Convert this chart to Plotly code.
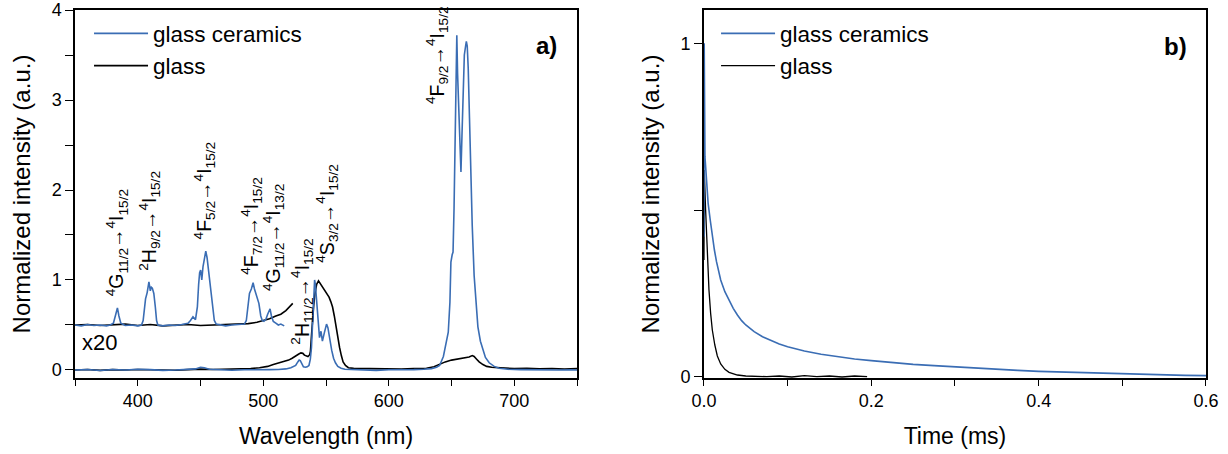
import plotly.graph_objects as go

BLUE = "#3a6db4"
BLACK = "#000000"
FONT = "Liberation Sans, Arial, sans-serif"

# ---------------- panel a) emission spectra ----------------
gc_wl = [350, 360, 370, 380, 390, 400, 410, 420, 430, 440, 446, 450, 453, 457, 465, 475, 485, 495,
         505, 512, 518, 522, 525.8, 527.5, 528.6, 529.5, 530.9, 532, 533.7, 535, 536.4, 537.5, 538.4,
         539.2, 539.8, 540.9, 541.5, 542, 543.2, 544.8, 546, 547.1, 548.7, 549.5, 550.4, 551.5, 553.2,
         554.5, 556, 557.5, 559.4, 562, 565, 570, 580, 590, 600, 610, 620, 628, 634, 638, 640.5, 643.5,
         645.5, 647.4, 648.7, 649.5, 650.5, 651.2, 652, 652.8, 653.5, 654.2, 654.8, 655.5, 656.3, 657,
         657.5, 658.3, 659.2, 660.2, 661.2, 661.8, 662.5, 663.3, 664.3, 665.3, 666.5, 668, 669.5, 671,
         673, 675, 677, 680, 684, 688, 695, 705, 715, 725, 735, 745, 750]
gc_int = [0.0, 0.005, -0.005, 0.005, 0.0, 0.008, 0.004, -0.004, 0.0, 0.006, 0.012, 0.03, 0.025, 0.008,
          0.0, -0.003, 0.002, 0.0, 0.004, 0.006, 0.012, 0.025, 0.05, 0.09, 0.11, 0.105, 0.06, 0.035, 0.03,
          0.035, 0.05, 0.12, 0.25, 0.5, 0.77, 1.0, 0.95, 0.85, 0.58, 0.36, 0.43, 0.32, 0.415, 0.48, 0.51,
          0.47, 0.32, 0.22, 0.13, 0.08, 0.04, 0.02, 0.008, 0.004, 0.0, -0.004, 0.003, 0.0, 0.004, 0.008,
          0.015, 0.03, 0.05, 0.15, 0.28, 0.42, 0.75, 1.2, 1.28, 1.31, 1.8, 2.6, 3.2, 3.72, 3.3, 2.95, 2.68,
          2.3, 2.2, 2.6, 3.1, 3.5, 3.6, 3.65, 3.6, 3.35, 2.8, 2.2, 1.6, 1.05, 0.7, 0.48, 0.32, 0.22, 0.14,
          0.08, 0.04, 0.02, 0.008, 0.004, 0.0, 0.004, 0.0, 0.003, 0.0]

glass_wl = [350, 360, 370, 380, 390, 400, 410, 420, 430, 440, 450, 460, 470, 480, 490, 497, 503.5, 508,
            511.8, 516, 520.2, 523, 525.8, 528, 530, 531.5, 532.8, 534, 535.6, 537, 537.6, 538.5, 539.2,
            540.2, 541.2, 542.5, 544, 545, 546.8, 548.2, 549.6, 551, 552.4, 553.8, 555.2, 556.6, 558,
            559.4, 560.8, 562.2, 563.6, 565.5, 567.8, 572, 580, 590, 600, 610, 620, 630, 636, 640, 645,
            650, 655, 660, 664, 666.5, 668, 670, 672, 675, 678, 682, 690, 700, 710, 720, 730, 740, 750]
glass_int = [0.0, 0.006, -0.004, 0.004, 0.0, 0.006, 0.002, 0.0, -0.003, 0.004, 0.01, 0.006, 0.008, 0.01,
             0.015, 0.025, 0.04, 0.06, 0.075, 0.09, 0.11, 0.13, 0.15, 0.175, 0.19, 0.185, 0.165, 0.155,
             0.15, 0.17, 0.21, 0.4, 0.58, 0.72, 0.85, 0.95, 0.99, 0.97, 0.92, 0.9, 0.87, 0.84, 0.81, 0.76,
             0.70, 0.6, 0.47, 0.36, 0.25, 0.16, 0.09, 0.05, 0.025, 0.018, 0.015, 0.012, 0.015, 0.01, 0.015,
             0.02, 0.035, 0.06, 0.09, 0.11, 0.12, 0.13, 0.145, 0.16, 0.15, 0.12, 0.09, 0.06, 0.04, 0.03,
             0.02, 0.015, 0.018, 0.012, 0.016, 0.01, 0.015]

# x20 magnified (offset) traces
gc_x20_wl = [350, 355, 360, 365, 370, 375, 378, 380.6, 382.5, 383.8, 385, 386.5, 390, 395, 400, 403,
             404.3, 405.5, 406.2, 407.5, 408.9, 410, 410.8, 411.6, 412.8, 414, 415, 416, 420, 425, 430,
             435, 440, 442, 444, 446, 447.5, 448.5, 449.3, 450.1, 451, 452, 453.2, 454.2, 455.2, 456.5,
             458, 459.5, 461, 462.5, 466, 470, 475, 480, 485, 486.5, 487.9, 489, 490.5, 491.9, 493, 494.5,
             496.5, 498, 499.2, 500.5, 502, 503.5, 505.4, 506.5, 508, 510, 512, 514, 516.7]
gc_x20_int = [0.5, 0.49, 0.505, 0.495, 0.5, 0.49, 0.5, 0.52, 0.62, 0.69, 0.6, 0.52, 0.495, 0.5, 0.49,
              0.5, 0.55, 0.75, 0.79, 0.86, 0.98, 0.88, 0.92, 0.91, 0.85, 0.7, 0.55, 0.5, 0.49, 0.5, 0.495,
              0.505, 0.52, 0.55, 0.59, 0.56, 0.7, 0.95, 1.08, 1.11, 1.0, 1.15, 1.25, 1.32, 1.25, 1.1, 0.9,
              0.7, 0.55, 0.51, 0.5, 0.49, 0.5, 0.505, 0.51, 0.55, 0.7, 0.85, 0.9, 0.97, 0.9, 0.82, 0.74,
              0.6, 0.55, 0.54, 0.56, 0.62, 0.68, 0.6, 0.54, 0.52, 0.5, 0.51, 0.49]

glass_x20_wl = [350, 360, 370, 380, 390, 400, 410, 420, 430, 440, 450, 460, 470, 480, 488, 495, 500,
                505, 510, 514, 518, 521, 523.5]
glass_x20_int = [0.5, 0.505, 0.495, 0.5, 0.51, 0.495, 0.505, 0.49, 0.5, 0.505, 0.495, 0.5, 0.505, 0.51,
                 0.515, 0.53, 0.55, 0.57, 0.6, 0.62, 0.66, 0.7, 0.74]

# ---------------- panel b) decay curves ----------------
gc_t = [0, 0.0003, 0.0012, 0.003, 0.005, 0.0075, 0.010, 0.0125, 0.015, 0.020, 0.025, 0.030, 0.035,
        0.040, 0.045, 0.050, 0.060, 0.070, 0.080, 0.090, 0.100, 0.120, 0.140, 0.160, 0.180, 0.200, 0.225,
        0.250, 0.275, 0.300, 0.325, 0.350, 0.375, 0.400, 0.425, 0.450, 0.475, 0.500, 0.525, 0.550, 0.575,
        0.600]
gc_decay = [0.42, 1.0, 0.66, 0.575, 0.52, 0.47, 0.42, 0.38, 0.345, 0.29, 0.255, 0.228, 0.205, 0.185,
            0.168, 0.155, 0.135, 0.120, 0.108, 0.098, 0.090, 0.077, 0.067, 0.059, 0.053, 0.048, 0.042,
            0.037, 0.033, 0.029, 0.025, 0.022, 0.019, 0.016, 0.014, 0.012, 0.010, 0.008, 0.006, 0.005,
            0.004, 0.003]

glass_t = [0, 0.0004, 0.002, 0.004, 0.006, 0.008, 0.010, 0.013, 0.016, 0.020, 0.025, 0.030, 0.035,
           0.040, 0.050, 0.060, 0.075, 0.090, 0.105, 0.120, 0.135, 0.150, 0.165, 0.180, 0.195]
glass_decay = [0.35, 0.62, 0.50, 0.36, 0.26, 0.19, 0.14, 0.095, 0.062, 0.038, 0.022, 0.013, 0.008, 0.005,
               0.002, 0.001, 0.0, 0.002, -0.001, 0.003, 0.0, 0.002, -0.001, 0.002, 0.0]

LW = 1.6
fig = go.Figure()
fig.add_trace(go.Scatter(x=glass_x20_wl, y=glass_x20_int, mode="lines", line=dict(color=BLACK, width=LW),
                         showlegend=False, xaxis="x", yaxis="y"))
fig.add_trace(go.Scatter(x=gc_x20_wl, y=gc_x20_int, mode="lines", line=dict(color=BLUE, width=LW),
                         showlegend=False, xaxis="x", yaxis="y"))
fig.add_trace(go.Scatter(x=glass_wl, y=glass_int, mode="lines", line=dict(color=BLACK, width=LW),
                         name="glass", legend="legend", legendrank=2, xaxis="x", yaxis="y"))
fig.add_trace(go.Scatter(x=gc_wl, y=gc_int, mode="lines", line=dict(color=BLUE, width=LW),
                         name="glass ceramics", legend="legend", legendrank=1, xaxis="x", yaxis="y"))
fig.add_trace(go.Scatter(x=glass_t, y=glass_decay, mode="lines", line=dict(color=BLACK, width=1.3),
                         name="glass", legend="legend2", legendrank=2, xaxis="x2", yaxis="y2"))
fig.add_trace(go.Scatter(x=gc_t, y=gc_decay, mode="lines", line=dict(color=BLUE, width=1.6),
                         name="glass ceramics", legend="legend2", legendrank=1, xaxis="x2", yaxis="y2"))

axis_common = dict(showline=True, linecolor="black", linewidth=1.5, mirror=True, ticks="outside",
                   tickwidth=1.3, tickcolor="black", showgrid=False, zeroline=False,
                   tickfont=dict(family=FONT, size=18, color="black"), automargin=False)

x1_ticks = [350, 400, 450, 500, 550, 600, 650, 700, 750]
x1_text = ["", "400", "", "500", "", "600", "", "700", ""]
y1_ticks = [0, 0.5, 1, 1.5, 2, 2.5, 3, 3.5, 4]
y1_text = ["0", "", "1", "", "2", "", "3", "", "4"]
x2_ticks = [0, 0.1, 0.2, 0.3, 0.4, 0.5, 0.6]
x2_text = ["0.0", "", "0.2", "", "0.4", "", "0.6"]
y2_ticks = [0, 0.5, 1]
y2_text = ["0", "", "1"]

xtitle_font = dict(family=FONT, size=23, color="black")
ytitle_font = dict(family=FONT, size=24, color="black")
leg_font = dict(family=FONT, size=22.5, color="black")

fig.update_layout(
    width=1228, height=454,
    margin=dict(l=75, r=22, t=10, b=76),
    paper_bgcolor="white", plot_bgcolor="white",
    font=dict(family=FONT, color="black"),
    xaxis=dict(domain=[0, 0.4439], range=[350, 750], tickvals=x1_ticks, ticktext=x1_text, ticklen=6,
               title=dict(text="Wavelength (nm)", font=xtitle_font, standoff=18), **axis_common),
    yaxis=dict(domain=[0, 1], range=[-0.089, 4.0], tickvals=y1_ticks, ticktext=y1_text, ticklen=8,
               title=dict(text="Normalized intensity (a.u.)", font=ytitle_font, standoff=14), **axis_common),
    xaxis2=dict(domain=[0.5561, 1], range=[0, 0.6], tickvals=x2_ticks, ticktext=x2_text, ticklen=6,
                title=dict(text="Time (ms)", font=xtitle_font, standoff=18), anchor="y2", **axis_common),
    yaxis2=dict(domain=[0, 1], range=[-0.004, 1.1], tickvals=y2_ticks, ticktext=y2_text, anchor="x2",
                ticklen=8,
                title=dict(text="Normalized intensity (a.u.)", font=ytitle_font, standoff=14), **axis_common),
    legend=dict(x=0.0124, y=0.994, xanchor="left", yanchor="top", bgcolor="rgba(0,0,0,0)",
                font=leg_font, tracegroupgap=0, itemwidth=54),
    legend2=dict(x=0.5668, y=0.994, xanchor="left", yanchor="top", bgcolor="rgba(0,0,0,0)",
                 font=leg_font, tracegroupgap=0, itemwidth=54),
)

ann_font = dict(family=FONT, size=19.5, color="black")
labels = [
    ("<sup>4</sup>G<sub>11/2</sub>→<sup>4</sup>I<sub>15/2</sub>", 383.3, 0.80),
    ("<sup>2</sup>H<sub>9/2</sub>→<sup>4</sup>I<sub>15/2</sub>", 409.7, 1.08),
    ("<sup>4</sup>F<sub>5/2</sub>→<sup>4</sup>I<sub>15/2</sub>", 452.9, 1.43),
    ("<sup>4</sup>F<sub>7/2</sub>→<sup>4</sup>I<sub>15/2</sub>", 490.5, 1.04),
    ("<sup>4</sup>G<sub>11/2</sub>→<sup>4</sup>I<sub>13/2</sub>", 508.6, 0.85),
    ("<sup>2</sup>H<sub>11/2</sub>→<sup>4</sup>I<sub>15/2</sub>", 530.9, 0.26),
    ("<sup>4</sup>S<sub>3/2</sub>→<sup>4</sup>I<sub>15/2</sub>", 550.4, 1.17),
    ("<sup>4</sup>F<sub>9/2</sub>→<sup>4</sup>I<sub>15/2</sub>", 638.2, 2.93),
]
for txt, xx, yy in labels:
    fig.add_annotation(x=xx, y=yy, xref="x", yref="y", text=txt, textangle=-90, showarrow=False,
                       xanchor="center", yanchor="bottom", font=ann_font)

fig.add_annotation(x=369.8, y=0.3, xref="x", yref="y", text="x20", showarrow=False,
                   font=dict(family=FONT, size=22, color="black"))
fig.add_annotation(x=725.8, y=3.61, xref="x", yref="y", text="<b>a)</b>", showarrow=False,
                   font=dict(family=FONT, size=24, color="black"))
fig.add_annotation(x=0.5636, y=0.992, xref="x2", yref="y2", text="<b>b)</b>", showarrow=False,
                   font=dict(family=FONT, size=24, color="black"))

fig.write_html("out.html", config={"displayModeBar": False},
               post_script="document.body.style.margin='0px';")
